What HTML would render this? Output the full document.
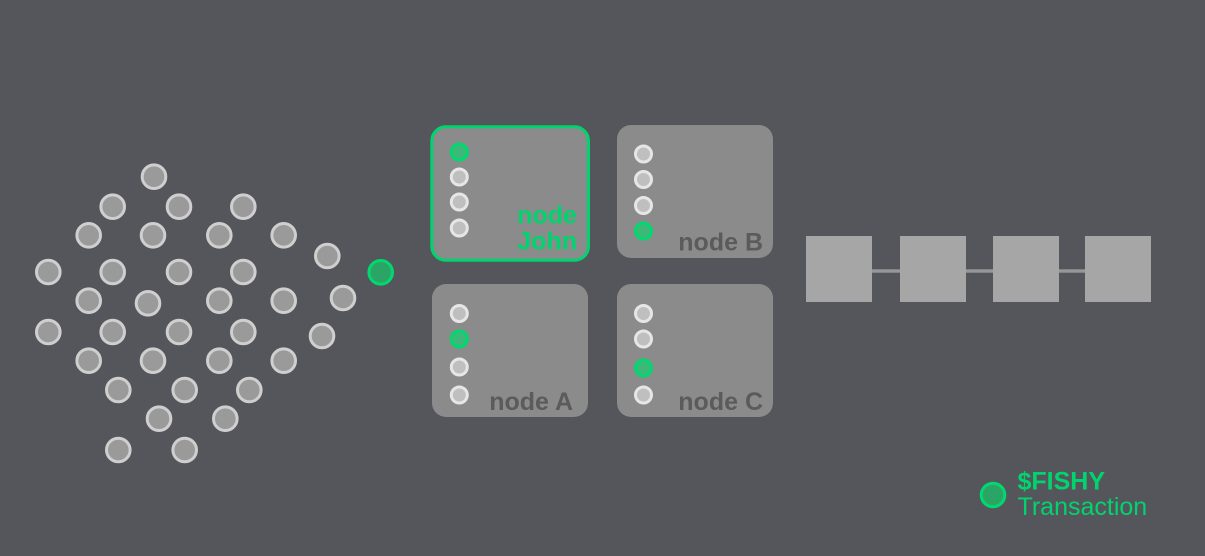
<!DOCTYPE html>
<html><head><meta charset="utf-8"><style>
html,body{margin:0;padding:0;background:#55565b;width:1205px;height:556px;overflow:hidden}
svg{display:block}
text{font-family:"Liberation Sans",Arial,sans-serif}
.t{font-weight:700;font-size:25px;fill:#5b5b5d;text-anchor:end}
.g{font-weight:700;font-size:25px;fill:#00d46e;text-anchor:end}
.c circle{fill:#9a9a9a;stroke:#cfcfcf;stroke-width:3}
.s circle{fill:#bfbfbf;stroke:#e6e6e6;stroke-width:3}
.n circle{fill:#3cb878;stroke:#00d96f;stroke-width:3}
</style></head><body>
<svg width="1205" height="556" viewBox="0 0 1205 556" xmlns="http://www.w3.org/2000/svg">
<rect width="1205" height="556" fill="#55565b"/>
<g class="c">
<circle cx="154" cy="176.700" r="11.800"/>
<circle cx="112.700" cy="206.700" r="11.800"/><circle cx="179" cy="206.700" r="11.800"/><circle cx="243.300" cy="206.700" r="11.800"/>
<circle cx="88.700" cy="235.300" r="11.800"/><circle cx="153" cy="235.300" r="11.800"/><circle cx="219.300" cy="235.300" r="11.800"/><circle cx="283.700" cy="235.300" r="11.800"/>
<circle cx="327.300" cy="256" r="11.800"/>
<circle cx="48.300" cy="272" r="11.800"/><circle cx="112.700" cy="272" r="11.800"/><circle cx="179" cy="272" r="11.800"/><circle cx="243.300" cy="272" r="11.800"/>
<circle cx="88.700" cy="300.700" r="11.800"/><circle cx="148" cy="303.300" r="11.800"/><circle cx="219.300" cy="300.700" r="11.800"/><circle cx="283.700" cy="300.700" r="11.800"/><circle cx="343" cy="298" r="11.800"/>
<circle cx="48.300" cy="332" r="11.800"/><circle cx="112.700" cy="332" r="11.800"/><circle cx="179" cy="332" r="11.800"/><circle cx="243.300" cy="332" r="11.800"/>
<circle cx="322" cy="336" r="11.800"/>
<circle cx="88.700" cy="360.700" r="11.800"/><circle cx="153" cy="360.700" r="11.800"/><circle cx="219.300" cy="360.700" r="11.800"/><circle cx="283.700" cy="360.700" r="11.800"/>
<circle cx="118.300" cy="390" r="11.800"/><circle cx="184.700" cy="390" r="11.800"/><circle cx="249.300" cy="390" r="11.800"/>
<circle cx="159" cy="418.700" r="11.800"/><circle cx="225.300" cy="418.700" r="11.800"/>
<circle cx="118.300" cy="450" r="11.800"/><circle cx="184.700" cy="450" r="11.800"/>
</g>
<circle cx="380.700" cy="272.300" r="11.800" fill="#2ba566" stroke="#00d96f" stroke-width="3"/>

<rect x="431.800" y="126.800" width="156.700" height="133.500" rx="14" fill="#8b8b8b" stroke="#00d46e" stroke-width="3"/>
<rect x="617" y="125" width="156" height="133" rx="14" fill="#8b8b8b"/>
<rect x="432" y="284" width="156" height="133" rx="14" fill="#8b8b8b"/>
<rect x="617" y="284" width="156" height="133" rx="14" fill="#8b8b8b"/>

<g class="s">
<circle cx="459.300" cy="177" r="8"/><circle cx="459.300" cy="202" r="8"/><circle cx="459.300" cy="228" r="8"/>
<circle cx="643.500" cy="154" r="8"/><circle cx="643.500" cy="179.500" r="8"/><circle cx="643.500" cy="205.500" r="8"/>
<circle cx="459.300" cy="313.500" r="8"/><circle cx="459.300" cy="367" r="8"/><circle cx="459.300" cy="395" r="8"/>
<circle cx="643.500" cy="313.500" r="8"/><circle cx="643.500" cy="339" r="8"/><circle cx="643.500" cy="395" r="8"/>
</g>
<g class="n">
<circle cx="459.300" cy="152" r="8"/><circle cx="643.500" cy="231" r="8"/><circle cx="459.300" cy="339" r="8"/><circle cx="643.500" cy="368" r="8"/>
</g>

<text class="g" x="577" y="223.500">node</text>
<text class="g" x="577" y="249.500">John</text>
<text class="t" x="763" y="250.500">node B</text>
<text class="t" x="573" y="410">node A</text>
<text class="t" x="763" y="410">node C</text>

<g fill="#a6a6a6">
<rect x="872" y="269.300" width="28" height="3.400" fill="#97979a"/>
<rect x="966" y="269.300" width="27" height="3.400" fill="#97979a"/>
<rect x="1059" y="269.300" width="26" height="3.400" fill="#97979a"/>
<rect x="806" y="236" width="66" height="66"/>
<rect x="900" y="236" width="66" height="66"/>
<rect x="993" y="236" width="66" height="66"/>
<rect x="1085" y="236" width="66" height="66"/>
</g>

<circle cx="993" cy="495" r="11.800" fill="#2ba566" stroke="#00d96f" stroke-width="3"/>
<text x="1017.500" y="489.500" font-size="25" font-weight="700" fill="#00d46e">$FISHY</text>
<text x="1017.500" y="515" font-size="25" fill="#00d46e">Transaction</text>
</svg>
</body></html>
